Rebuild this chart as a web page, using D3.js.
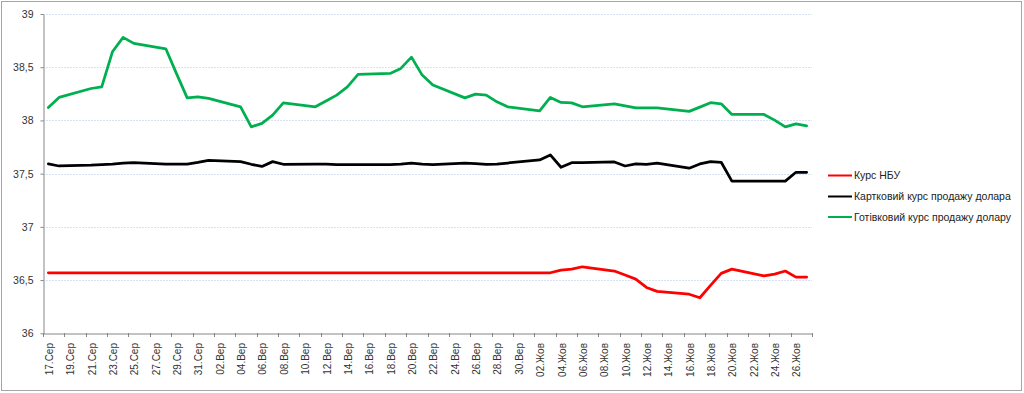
<!DOCTYPE html>
<html>
<head>
<meta charset="utf-8">
<script src="https://cdn.jsdelivr.net/npm/d3@7"></script>
<style>
  html, body { margin: 0; padding: 0; background: #fff; }
  svg { display: block; font-family: "Liberation Sans", Arial, sans-serif; }
</style>
</head>
<body>
<svg id="chart" width="1024" height="393"></svg>
<script>
// Categories: every calendar day 17 Aug – 27 Oct
const categories = [
  "17.Сер","18.Сер","19.Сер","20.Сер","21.Сер","22.Сер","23.Сер","24.Сер","25.Сер","26.Сер","27.Сер","28.Сер","29.Сер","30.Сер","31.Сер",
  "01.Вер","02.Вер","03.Вер","04.Вер","05.Вер","06.Вер","07.Вер","08.Вер","09.Вер","10.Вер","11.Вер","12.Вер","13.Вер","14.Вер","15.Вер",
  "16.Вер","17.Вер","18.Вер","19.Вер","20.Вер","21.Вер","22.Вер","23.Вер","24.Вер","25.Вер","26.Вер","27.Вер","28.Вер","29.Вер","30.Вер",
  "01.Жов","02.Жов","03.Жов","04.Жов","05.Жов","06.Жов","07.Жов","08.Жов","09.Жов","10.Жов","11.Жов","12.Жов","13.Жов","14.Жов","15.Жов",
  "16.Жов","17.Жов","18.Жов","19.Жов","20.Жов","21.Жов","22.Жов","23.Жов","24.Жов","25.Жов","26.Жов","27.Жов"
];

// Tick labels shown on the x axis (every second day)
const tickLabels = [
  "17.Сер","19.Сер","21.Сер","23.Сер","25.Сер","27.Сер","29.Сер","31.Сер",
  "02.Вер","04.Вер","06.Вер","08.Вер","10.Вер","12.Вер","14.Вер","16.Вер","18.Вер","20.Вер","22.Вер","24.Вер","26.Вер","28.Вер","30.Вер",
  "02.Жов","04.Жов","06.Жов","08.Жов","10.Жов","12.Жов","14.Жов","16.Жов","18.Жов","20.Жов","22.Жов","24.Жов","26.Жов"
];

const yTicks = [36, 36.5, 37, 37.5, 38, 38.5, 39];

const seriesNames = ["Курс НБУ", "Картковий курс продажу долара", "Готівковий курс продажу долару"];

// null = no quote that day (weekends); the line connects over gaps
const nbu = [
  36.5686,36.5686,null,null,36.5686,36.5686,36.5686,36.5686,36.5686,null,null,36.5686,36.5686,36.5686,36.5686,
  36.5686,null,null,36.5686,36.5686,36.5686,36.5686,36.5686,null,null,36.5686,36.5686,36.5686,36.5686,36.5686,
  null,null,36.5686,36.5686,36.5686,36.5686,36.5686,null,null,36.5686,36.5686,36.5686,36.5686,36.5686,null,
  null,36.5686,36.5686,36.594,36.603,36.625,null,null,36.585,36.547,36.509,36.431,36.394,null,null,
  36.367,36.334,36.45,36.563,36.603,null,null,36.54,36.556,36.585,36.528,36.528
];

const card = [
  37.591,37.572,null,null,37.58,37.585,37.59,37.598,37.603,null,null,37.59,37.59,37.59,37.605,
  37.624,null,null,37.613,37.588,37.568,37.613,37.588,null,null,37.59,37.59,37.585,37.585,37.585,
  null,null,37.585,37.59,37.6,37.59,37.585,null,null,37.598,37.595,37.588,37.59,37.6,null,
  null,37.629,37.676,37.56,37.603,37.604,null,null,37.61,37.572,37.591,37.588,37.598,null,null,
  37.551,37.591,37.613,37.607,37.43,null,null,37.43,37.43,37.43,37.513,37.513
];

const cash = [
  38.122,38.216,null,null,38.30,38.316,38.645,38.78,38.724,null,null,38.673,38.44,38.212,38.222,
  38.207,null,null,38.128,37.94,37.972,38.05,38.165,null,null,38.128,38.183,38.238,38.316,38.432,
  null,null,38.442,38.489,38.595,38.426,38.332,null,null,38.212,38.247,38.238,38.175,38.128,null,
  null,38.09,38.216,38.169,38.165,38.128,null,null,38.156,38.137,38.118,38.118,38.118,null,null,
  38.085,38.125,38.167,38.156,38.056,null,null,38.056,38.003,37.94,37.968,37.949
];

const colors = ["#ff0000", "#000000", "#00b050"];

const svg = d3.select("#chart");

// outer chart border
svg.append("rect").attr("x", 1.5).attr("y", 1.5).attr("width", 1020).attr("height", 389)
  .attr("fill", "#fff").attr("stroke", "#a6a6a6").attr("stroke-width", 1);

const plotLeft = 43, plotRight = 812, plotTop = 14, plotBottom = 333.3;

const x = d3.scaleBand().domain(categories).range([plotLeft, plotRight]).padding(0);
const y = d3.scaleLinear().domain([36, 39]).range([plotBottom, plotTop]);
const bw = x.bandwidth();

// gridlines
svg.append("g").selectAll("line").data(yTicks.filter(t => t > 36)).join("line")
  .attr("x1", plotLeft).attr("x2", plotRight)
  .attr("y1", d => Math.round(y(d)) + 0.5).attr("y2", d => Math.round(y(d)) + 0.5)
  .attr("stroke", "#d6e1f3").attr("stroke-width", 1).attr("stroke-dasharray", "2,1");

// y axis
const fmt = d => String(d).replace(".", ",");
const yAxis = svg.append("g").attr("transform", `translate(${plotLeft + 0.5},0)`)
  .call(d3.axisLeft(y).tickValues(yTicks).tickSize(3).tickPadding(7).tickFormat(fmt).tickSizeOuter(0));
yAxis.select(".domain").attr("stroke", "#868686");
yAxis.selectAll(".tick line").attr("stroke", "#868686");
yAxis.selectAll(".tick text").attr("fill", "#333").style("font-size", "10.5px")
  .style("font-family", "'Liberation Sans', Arial, sans-serif");

// x axis
const xAxis = svg.append("g").attr("transform", `translate(0,${Math.round(plotBottom) + 0.5})`)
  .call(d3.axisBottom(x).tickValues(tickLabels).tickSize(0).tickSizeOuter(0));
xAxis.select(".domain").attr("stroke", "#868686");
xAxis.selectAll(".tick text")
  .attr("transform", "rotate(-90)")
  .attr("x", -9.5).attr("y", 0).attr("dy", "0.45em")
  .style("text-anchor", "end").style("font-size", "10px").attr("fill", "#333")
  .style("font-family", "'Liberation Sans', Arial, sans-serif");
// tick marks between categories
const tickPos = tickLabels.map(t => x(t)).concat([plotRight]);
svg.append("g").selectAll("line").data(tickPos).join("line")
  .attr("x1", d => Math.round(d) + 0.5).attr("x2", d => Math.round(d) + 0.5)
  .attr("y1", Math.round(plotBottom)).attr("y2", Math.round(plotBottom) + 4)
  .attr("stroke", "#868686");

// lines
const series = [nbu, card, cash];
const line = d3.line()
  .x(d => x(d.c) + bw / 2)
  .y(d => y(d.v));

series.forEach((vals, si) => {
  const pts = categories.map((c, i) => ({ c, v: vals[i] })).filter(d => d.v != null);
  svg.append("path").datum(pts)
    .attr("d", line)
    .attr("fill", "none")
    .attr("stroke", colors[si])
    .attr("stroke-width", 2.75)
    .attr("stroke-linejoin", "round")
    .attr("stroke-linecap", "round");
});

// legend
const legendY = [175.5, 196.5, 217];
const lg = svg.append("g");
seriesNames.forEach((name, i) => {
  lg.append("line").attr("x1", 828).attr("x2", 852).attr("y1", legendY[i]).attr("y2", legendY[i])
    .attr("stroke", colors[i]).attr("stroke-width", 2);
  lg.append("text").attr("x", 854).attr("y", legendY[i]).attr("dy", "0.35em")
    .style("font-size", "10.5px").attr("fill", "#222").text(name);
});
</script>
</body>
</html>
